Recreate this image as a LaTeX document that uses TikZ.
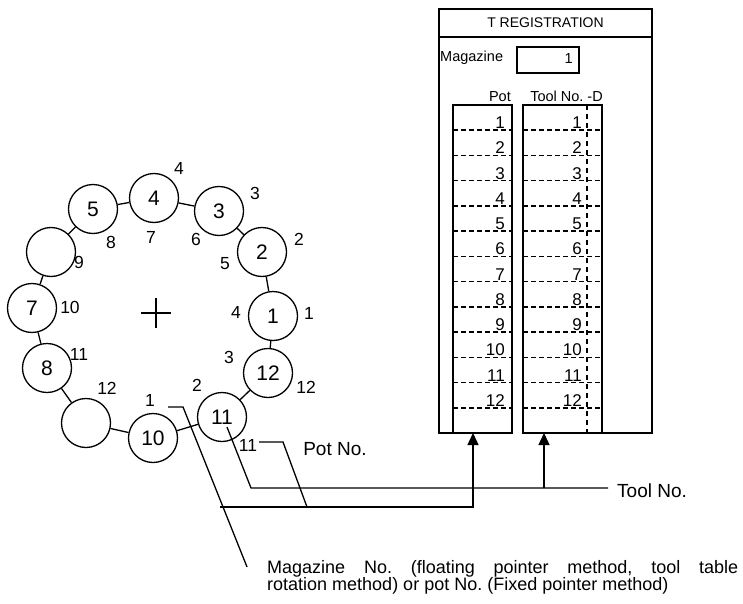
\documentclass[tikz,border=0pt]{standalone}
\usepackage{fontspec}
\setmainfont{Liberation Sans}
\usetikzlibrary{arrows.meta}
\frenchspacing
\begin{document}
\begin{tikzpicture}[x=1pt,y=-1pt,
  circ/.style={circle,draw,line width=1.3pt,minimum size=49pt,inner sep=0pt,font=\fontsize{21}{23}\selectfont},
  lbl/.style={inner sep=0pt,font=\fontsize{17.5}{19}\selectfont},
  tnum/.style={inner sep=0pt,anchor=base east,font=\fontsize{17}{18}\selectfont},
  small/.style={inner sep=0pt,font=\fontsize{14.5}{16}\selectfont},
  big/.style={inner sep=0pt,font=\fontsize{18}{17}\selectfont},
  link/.style={line width=1.3pt},
  tline/.style={line width=2pt},
  dline/.style={line width=1.6pt,dash pattern=on 5pt off 3pt},
  vdline/.style={line width=1.6pt,dash pattern=on 5pt off 4pt},
  arr/.style={line width=1.3pt,-{Triangle[width=11pt,length=12pt]}}
]
\useasboundingbox (0,0) rectangle (743,604);

% ---------- magazine ring ----------
\node[circ] (c5) at (93,209) {5};
\node[circ] (c4) at (154,198) {4};
\node[circ] (c3) at (219,211) {3};
\node[circ] (c2) at (262,252) {2};
\node[circ] (c1) at (273,316) {1};
\node[circ] (c12) at (268,373) {12};
\node[circ] (c11) at (222,417) {11};
\node[circ] (c10) at (153,438) {10};
\node[circ] (ce12) at (86,423) {};
\node[circ] (c8) at (47,368) {8};
\node[circ] (c7) at (32,308) {7};
\node[circ] (ce9) at (51,252) {};

\foreach \a/\b in {c5/c4,c4/c3,c3/c2,c2/c1,c1/c12,c12/c11,c11/c10,c10/ce12,ce12/c8,c8/c7,c7/ce9,ce9/c5}
  \draw[link] (\a) -- (\b);

% outer (pot) numbers
\node[lbl] (o4) at (179,168) {4};
\node[lbl] (o3) at (255,193) {3};
\node[lbl] (o2) at (299,239) {2};
\node[lbl] (o1) at (309,313) {1};
\node[lbl] (o12) at (306,387) {12};
\node[lbl] (o11) at (248,445) {11};
\node[lbl] (o10) at (70,307) {10};
\node[lbl] (o11b) at (79,354) {11};
\node[lbl] (o12b) at (107,388) {12};
\node[lbl] (o9) at (79,262) {9};
\node[lbl] (o8) at (111,242) {8};
% inner numbers
\node[lbl] (i7) at (151,237) {7};
\node[lbl] (i6) at (196,239) {6};
\node[lbl] (i5) at (225,264) {5};
\node[lbl] (i4) at (236,312) {4};
\node[lbl] (i3) at (229,357) {3};
\node[lbl] (i2) at (197,385) {2};
\node[lbl] (i1) at (150,400) {1};

% centre cross
\draw[link] (141,313) -- (171,313);
\draw[link] (156,298) -- (156,328);

% ---------- T REGISTRATION table ----------
\draw[tline] (512,433) -- (439,433) -- (439,9) -- (652,9) -- (652,433) -- (523,433);
\draw[tline] (439,37) -- (652,37);
\node[small,font=\fontsize{14}{16}\selectfont] (title) at (545.5,23) {T REGISTRATION};
\node[small,anchor=west] (maglbl) at (440,58) {Magazine};
\node[draw,line width=2pt,minimum width=62pt,minimum height=26pt,inner sep=0pt,anchor=north west] (magbox) at (516,46) {};
\node[small,anchor=east] (magval) at (573,59) {1};
\node[small,anchor=base east] (hpot) at (511,102) {Pot};
\node[small,anchor=base east] (htool) at (603,102) {Tool No. -D};

\foreach \k in {1,...,12}{
  \pgfmathsetmacro\yy{105+25.23*\k}
  \draw[dline] (453,\yy) -- (512,\yy);
  \draw[dline] (523,\yy) -- (602,\yy);
  \node[tnum] (p\k) at (505,\yy-1.5) {\k};
  \node[tnum] (t\k) at (582,\yy-1.5) {\k};
}
\draw[vdline] (587,105) -- (587,433);
\draw[tline] (453,105) rectangle (512,433);
\draw[tline] (523,105) rectangle (602,433);
\coordinate (potin) at (473,433);
\coordinate (toolin) at (544,433);

% ---------- pointer lines ----------
\coordinate (m0) at (168,407);
\coordinate (m1) at (183,407);
\coordinate (m2) at (247,567);
\draw[link] (m0) -- (m1) -- (m2);

\coordinate (tl0) at (227,427);
\coordinate (tl1) at (251,488);
\coordinate (tl2) at (608,488);
\coordinate (tlj) at (544,488);
\draw[link] (tl0) -- (tl1) -- (tl2);
\draw[arr] (tlj) -- (toolin);

\coordinate (pl0) at (259,442);
\coordinate (pl1) at (283,442);
\coordinate (pl2) at (307,507);
\coordinate (pl3) at (220,507);
\coordinate (pl4) at (473,507);
\draw[link] (pl0) -- (pl1) -- (pl2);
\draw[arr] (pl3) -- (pl4) -- (potin);

\node[big,font=\fontsize{19}{19}\selectfont] (potno) at (335,449) {Pot No.};
\node[big,font=\fontsize{19}{19}\selectfont,anchor=west] (toolno) at (617,491) {Tool No.};
\node[big,anchor=base west] (magtxt1) at (267,573) {\makebox[471pt][s]{Magazine No. (floating pointer method, tool table}};
\node[big,anchor=base west] (magtxt2) at (267,590) {rotation method) or pot No. (Fixed pointer method)};
\end{tikzpicture}
\end{document}
